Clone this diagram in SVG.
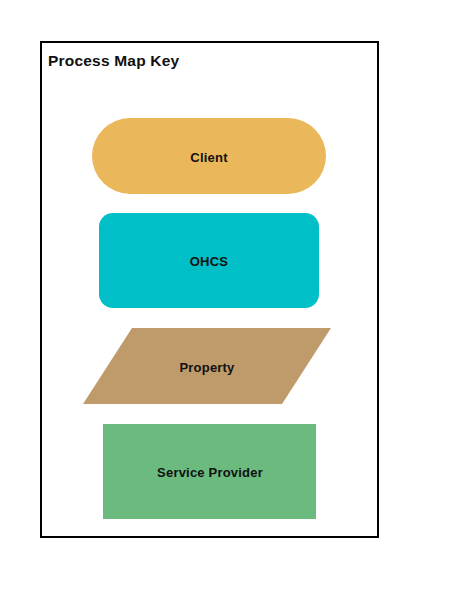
<svg xmlns="http://www.w3.org/2000/svg" width="455" height="616" viewBox="0 0 455 616">
<style>
.lbl{font-family:"Liberation Sans",Arial,sans-serif;font-weight:bold;font-size:13px;letter-spacing:0.2px;fill:#111;text-anchor:middle;dominant-baseline:central}
.title{font-family:"Liberation Sans",Arial,sans-serif;font-weight:bold;font-size:15.5px;letter-spacing:0.2px;fill:#111}
</style>
<rect x="0" y="0" width="455" height="616" fill="#fff"/>
<rect x="41" y="42" width="337" height="495" fill="#fff" stroke="#000" stroke-width="2"/>
<text class="title" x="48" y="66">Process Map Key</text>
<g id="client">
<rect x="92" y="118" width="234" height="76" rx="38" ry="38" fill="#EBB75B"/>
<text class="lbl" x="209" y="157">Client</text>
</g>
<g id="ohcs">
<rect x="99" y="213" width="220" height="95" rx="14" ry="14" fill="#00BFC6"/>
<text class="lbl" x="209" y="261">OHCS</text>
</g>
<g id="property">
<polygon points="132,328 331,328 282,404 83,404" fill="#BF9A6A"/>
<text class="lbl" x="207" y="367">Property</text>
</g>
<g id="service-provider">
<rect x="103" y="424" width="213" height="95" fill="#6BBB7F"/>
<text class="lbl" x="210" y="472">Service Provider</text>
</g>
<g id="connectors"></g>
</svg>
